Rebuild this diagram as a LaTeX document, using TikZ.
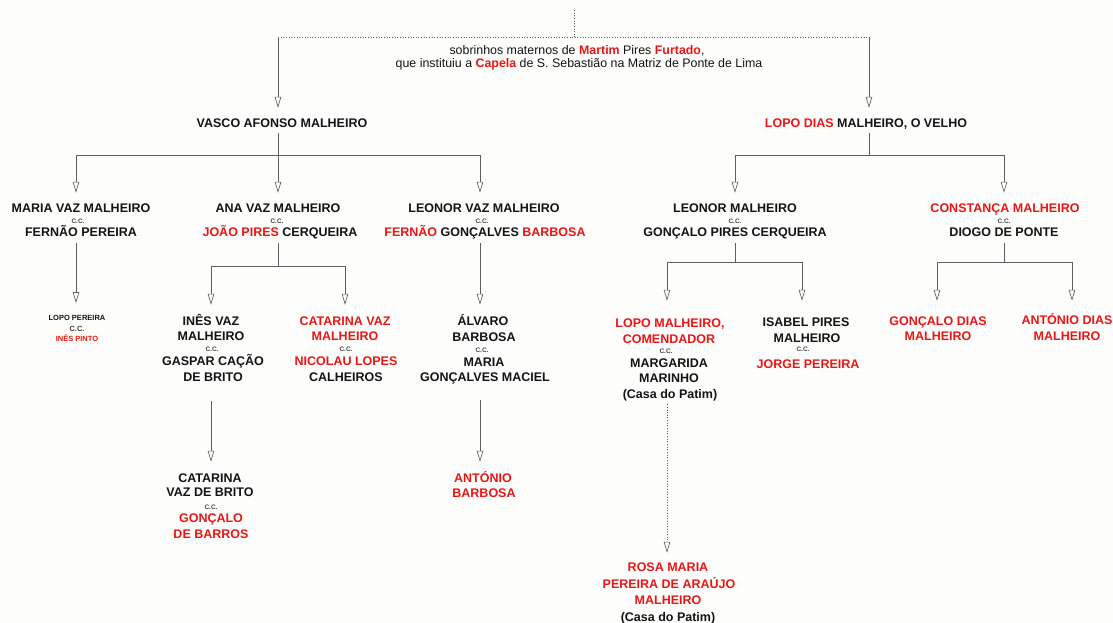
\documentclass[tikz,border=0pt]{standalone}
\usepackage{fontspec}
\setmainfont{Liberation Sans}
\usetikzlibrary{arrows.meta}
\definecolor{ink}{RGB}{20,20,20}
\definecolor{redn}{RGB}{232,22,22}
\definecolor{lc}{RGB}{95,95,95}
\definecolor{bg}{RGB}{253,253,251}
\newcommand\nmfont{\fontsize{12.5}{15}\selectfont\bfseries}
\newcommand\dsfont{\fontsize{12.4}{14}\selectfont}
\newcommand\ccfont{\fontsize{6.5}{7}\selectfont\bfseries}
\newcommand\smfont{\fontsize{7.5}{9}\selectfont\bfseries}
\newcommand\rdx[1]{\textcolor{redn}{#1}}
\newcommand\rdb[1]{\textcolor{redn}{\bfseries #1}}
\tikzset{
  nm/.style={anchor=base, inner sep=0pt, text height=9pt, text depth=2pt, font=\nmfont, text=ink},
  rd/.style={nm, text=redn},
  ds/.style={anchor=base, inner sep=0pt, font=\dsfont, text=ink},
  ccs/.style={anchor=base, inner sep=0pt, font=\ccfont, text=ink!80},
  sm/.style={anchor=base, inner sep=0pt, text height=6pt, text depth=1.5pt, font=\smfont, text=ink},
  smr/.style={sm, text=redn},
  smc/.style={anchor=base, inner sep=0pt, font=\smfont, text=ink!80},
  ln/.style={draw=lc, line width=0.65pt},
  arr/.style={ln, -{Triangle[open, length=11pt, width=6.5pt]}},
  dots/.style={ln, dotted},
}
\begin{document}
\begin{tikzpicture}[x=1pt,y=-1pt]
\fill[bg] (0,0) rectangle (1113,623);
\useasboundingbox (0,0) rectangle (1113,623);

% header
\node[ds] (desc1) at (577,54.5) {sobrinhos maternos de \rdb{Martim} Pires \rdb{Furtado},};
\node[ds] (desc2) at (579,68) {que instituiu a \rdb{Capela} de S. Sebastião na Matriz de Ponte de Lima};

\node[nm] (vasco) at (282,127.5) {VASCO AFONSO MALHEIRO};
\node[nm] (lopod) at (866,127.5) {\rdx{LOPO DIAS} MALHEIRO, O VELHO};

% row 2
\node[nm]  (mv1) at (81,212.5) {MARIA VAZ MALHEIRO};
\node[ccs] (mvc) at (78,223) {C.C.};
\node[nm]  (mv2) at (81,236.5) {FERNÃO PEREIRA};

\node[nm]  (av1) at (278,212.5) {ANA VAZ MALHEIRO};
\node[ccs] (avc) at (277,223) {C.C.};
\node[nm]  (av2) at (280,236.5) {\rdx{JOÃO PIRES} CERQUEIRA};

\node[nm]  (lv1) at (484,212.5) {LEONOR VAZ MALHEIRO};
\node[ccs] (lvc) at (482,223) {C.C.};
\node[nm]  (lv2) at (485,236.5) {\rdx{FERNÃO} GONÇALVES \rdx{BARBOSA}};

\node[nm]  (lm1) at (735,212.5) {LEONOR MALHEIRO};
\node[ccs] (lmc) at (735,223) {C.C.};
\node[nm]  (lm2) at (735,236.5) {GONÇALO PIRES CERQUEIRA};

\node[rd]  (cm1) at (1005,212.5) {CONSTANÇA MALHEIRO};
\node[ccs] (cmc) at (1004,223) {C.C.};
\node[nm]  (cm2) at (1004,236.5) {DIOGO DE PONTE};

% row 3 left
\node[sm]  (lp1) at (77,320) {LOPO PEREIRA};
\node[smc] (lpc) at (77,331) {C.C.};
\node[smr] (lp2) at (77,341) {INÊS PINTO};

\node[nm]  (in1) at (211,325) {INÊS VAZ};
\node[nm]  (in2) at (211,340.5) {MALHEIRO};
\node[ccs] (inc) at (212,351) {C.C.};
\node[nm]  (in3) at (213,365.5) {GASPAR CAÇÃO};
\node[nm]  (in4) at (213,381) {DE BRITO};

\node[rd]  (ct1) at (345,325) {CATARINA VAZ};
\node[rd]  (ct2) at (345,340.5) {MALHEIRO};
\node[ccs] (ctc) at (346,351) {C.C.};
\node[rd]  (ct3) at (346,365.5) {NICOLAU LOPES};
\node[nm]  (ct4) at (346,381) {CALHEIROS};

\node[nm]  (al1) at (483,325.5) {ÁLVARO};
\node[nm]  (al2) at (484,341) {BARBOSA};
\node[ccs] (alc) at (482,352) {C.C.};
\node[nm]  (al3) at (484,366.5) {MARIA};
\node[nm]  (al4) at (485,381.5) {GONÇALVES MACIEL};

% row 4 left
\node[nm]  (cat1) at (210,482) {CATARINA};
\node[nm]  (cat2) at (210,496.5) {VAZ DE BRITO};
\node[ccs] (catc) at (211,509) {C.C.};
\node[rd]  (cat3) at (211,522.5) {GONÇALO};
\node[rd]  (cat4) at (211,538.5) {DE BARROS};

\node[rd]  (an1) at (483,482.5) {ANTÓNIO};
\node[rd]  (an2) at (484,497.5) {BARBOSA};

% row 3 right
\node[rd]  (lo1) at (670,327.5) {LOPO MALHEIRO,};
\node[rd]  (lo2) at (669,343.5) {COMENDADOR};
\node[ccs] (loc) at (666,353) {C.C.};
\node[nm]  (lo3) at (669,367) {MARGARIDA};
\node[nm]  (lo4) at (669,382) {MARINHO};
\node[nm]  (lo5) at (670,398) {(Casa do Patim)};

\node[nm]  (is1) at (806,326.5) {ISABEL PIRES};
\node[nm]  (is2) at (807,342) {MALHEIRO};
\node[ccs] (isc) at (803,351) {C.C.};
\node[rd]  (is3) at (808,368) {JORGE PEREIRA};

\node[rd]  (gd1) at (938,325.5) {GONÇALO DIAS};
\node[rd]  (gd2) at (938,340.5) {MALHEIRO};

\node[rd]  (ad1) at (1067,324.5) {ANTÓNIO DIAS};
\node[rd]  (ad2) at (1067,340) {MALHEIRO};

% row 5 right
\node[rd]  (ro1) at (668,571) {ROSA MARIA};
\node[rd]  (ro2) at (669,588.5) {PEREIRA DE ARAÚJO};
\node[rd]  (ro3) at (668,604.5) {MALHEIRO};
\node[nm]  (ro4) at (668,621) {(Casa do Patim)};

% junction coordinates
\coordinate (topend) at (574,10);
\coordinate (tm) at (574,37);
\coordinate (tl) at (278,37);
\coordinate (tr) at (869,37);
\coordinate (vbar) at (278,155);
\coordinate (lbar) at (869,155);
\coordinate (abar) at (278,266);
\coordinate (lmbar) at (735,262);
\coordinate (cmbar) at (1004,262);

% top connectors
\draw[dots] (topend) -- (tm);
\draw[dots] (tl) -- (tr);
\draw[arr] (tl) -- ([xshift=-4pt,yshift=10.5pt]vasco.north);
\draw[arr] (tr) -- ([xshift=3pt,yshift=10.5pt]lopod.north);

% Vasco's children
\draw[ln] ([xshift=-4pt,yshift=-3.5pt]vasco.south) -- (vbar);
\draw[arr] (vbar) -| ([xshift=-5pt,yshift=10.5pt]mv1.north);
\draw[arr] (vbar) -- ([yshift=10.5pt]av1.north);
\draw[arr] (vbar) -| ([xshift=-4pt,yshift=10.5pt]lv1.north);

% Lopo's children
\draw[ln] ([xshift=3pt,yshift=-3.5pt]lopod.south) -- (lbar);
\draw[arr] (lbar) -| ([yshift=10.5pt]lm1.north);
\draw[arr] (lbar) -| ([xshift=-1pt,yshift=10.5pt]cm1.north);

% Maria -> Lopo Pereira
\draw[arr] ([xshift=-5pt,yshift=-4.5pt]mv2.south) -- ([xshift=-1pt,yshift=10.7pt]lp1.north);

% Ana -> Inês, Catarina
\draw[ln] ([xshift=-2pt,yshift=-4.5pt]av2.south) -- (abar);
\draw[arr] (abar) -| ([yshift=11pt]in1.north);
\draw[arr] (abar) -| ([yshift=11pt]ct1.north);

% Leonor Vaz -> Álvaro
\draw[arr] ([xshift=-5pt,yshift=-4.5pt]lv2.south) -- ([xshift=-3pt,yshift=11.5pt]al1.north);

% Leonor -> Lopo, Isabel
\draw[ln] ([yshift=-4.5pt]lm2.south) -- (lmbar);
\draw[arr] (lmbar) -| ([xshift=-3pt,yshift=17.5pt]lo1.north);
\draw[arr] (lmbar) -| ([xshift=-4pt,yshift=16.5pt]is1.north);

% Constança -> Gonçalo, António
\draw[ln] ([yshift=-4.5pt]cm2.south) -- (cmbar);
\draw[arr] (cmbar) -| ([xshift=-1pt,yshift=15.5pt]gd1.north);
\draw[arr] (cmbar) -| ([xshift=5pt,yshift=14.5pt]ad1.north);

% Inês -> Catarina
\draw[arr] ([xshift=-2pt,yshift=-18pt]in4.south) -- ([xshift=1pt,yshift=11pt]cat1.north);

% Álvaro -> António
\draw[arr] ([xshift=-5pt,yshift=-16.5pt]al4.south) -- ([xshift=-3pt,yshift=11.5pt]an1.north);

% Lopo Malheiro -> Rosa Maria (dotted)
\draw[dots, -{Triangle[open, length=11pt, width=6.5pt]}] ([xshift=-3pt,yshift=-4pt]lo5.south) -- ([xshift=-1pt,yshift=9pt]ro1.north);
\end{tikzpicture}
\end{document}
